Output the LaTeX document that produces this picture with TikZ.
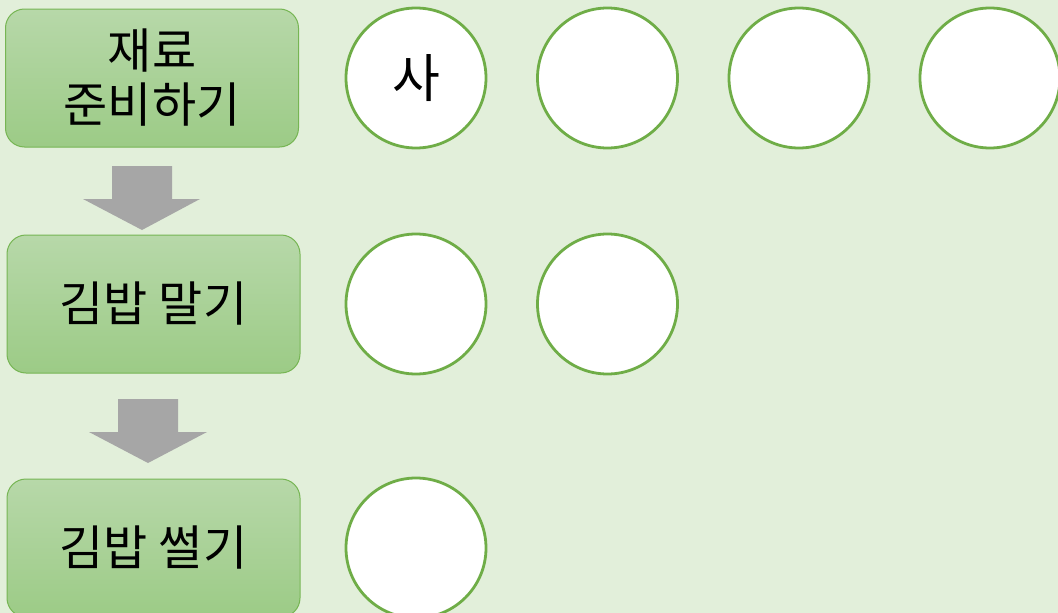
\documentclass[tikz,border=0pt]{standalone}
\usepackage{fontspec}
\setmainfont{Noto Sans CJK KR}
\begin{document}
\begin{tikzpicture}[x=1pt,y=-1pt,
  stepbox/.style={draw=boxline, line width=1pt, rounded corners=19pt,
    top color=boxtop, bottom color=boxbot, minimum width=293pt,
    minimum height=138pt, align=center, inner sep=0pt,
    font=\fontsize{48}{54}\selectfont},
  slot/.style={circle, draw=ringc, line width=2.8pt, fill=white,
    minimum size=140pt, inner sep=0pt, font=\fontsize{52}{56}\selectfont},
  blockarrow/.style={fill=arrowc, draw=none}]
\definecolor{bgc}{HTML}{E2EFDA}
\definecolor{boxtop}{HTML}{B7D8A9}
\definecolor{boxbot}{HTML}{9CCB86}
\definecolor{boxline}{HTML}{76B553}
\definecolor{ringc}{HTML}{6FAD47}
\definecolor{arrowc}{HTML}{A6A6A6}
\useasboundingbox (0,0) rectangle (1058,613);
\fill[bgc] (0,0) rectangle (1058,613);
% step boxes
\node[stepbox] (b1) at (152,78) {재료\\준비하기};
\node[stepbox] (b2) at (153.5,304) {김밥 말기};
\node[stepbox] (b3) at (153.5,548) {김밥 썰기};
% block arrows
\fill[blockarrow] (112,166) -- (172,166) -- (172,199) -- (200,199) -- (142,230)
  -- (83,199) -- (112,199) -- cycle;
\fill[blockarrow] (118,399) -- (178,399) -- (178,432) -- (207,432) -- (148,463)
  -- (89,432) -- (118,432) -- cycle;
% slots row 1
\node[slot] (c11) at (416,78) {사};
\node[slot] (c12) at (607.5,78) {};
\node[slot] (c13) at (799,78) {};
\node[slot] (c14) at (990,78) {};
% row 2
\node[slot] (c21) at (416,304) {};
\node[slot] (c22) at (607.5,304) {};
% row 3
\node[slot] (c31) at (416,548) {};
\end{tikzpicture}
\end{document}
